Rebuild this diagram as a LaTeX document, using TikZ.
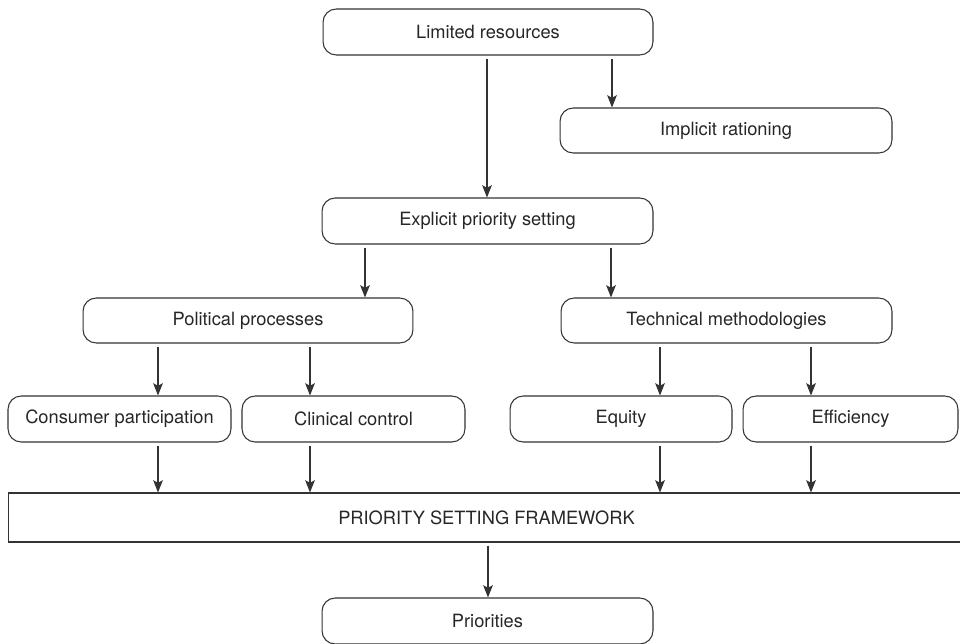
\documentclass[tikz,border=0pt]{standalone}
\usepackage{fontspec}
\setmainfont{TeX Gyre Heros}
\usetikzlibrary{arrows.meta}

\begin{document}
\begin{tikzpicture}[x=0.02cm, y=-0.02cm,
    box/.style={draw=black!80, line width=0.6pt, rounded corners=7.5pt,
        minimum height=0.92cm, inner sep=0pt, text=black!85,
        font=\fontsize{10.4}{12}\selectfont},
    frame/.style={box, rounded corners=0pt},
    arr/.style={-{Stealth[length=7pt, width=5.5pt, inset=1.5pt]},
        draw=black!80, fill=black!80, line width=0.6pt, shorten <=1.7pt}]

    \path[use as bounding box, clip] (0,0) rectangle (960,643);

    %% Rationing

    % Top level
    \node[box, minimum width=6.6cm] (lim) at (488,32) {Limited resources};
    \node[box, minimum width=6.64cm, minimum height=0.9cm] (imp) at (726,130.5) {Implicit rationing};
    \node[box, minimum width=6.62cm] (exp) at (487.5,221) {Explicit priority setting};

    % Processes
    \node[box, minimum width=6.6cm, minimum height=0.9cm] (pol) at (248,320.5) {Political processes};
    \node[box, minimum width=6.62cm, minimum height=0.9cm] (tech) at (726.5,320.5) {Technical methodologies};

    % Criteria
    \node[box, minimum width=4.46cm] (cons) at (119.5,419) {Consumer participation};
    \node[box, minimum width=4.46cm] (clin) at (353.5,419) {Clinical control};
    \node[box, minimum width=4.44cm] (equ) at (621,419) {Equity};
    \node[box, minimum width=4.3cm] (eff) at (850.5,419) {Efficiency};

    % Framework
    \node[frame, minimum width=19.14cm, minimum height=0.98cm] (psf) at (486.5,517.5) {PRIORITY SETTING FRAMEWORK};
    \node[box, minimum width=6.62cm] (prio) at (487.5,621) {Priorities};

    % Arrows
    \draw[arr] (lim.south -| 487,0) -- (exp.north -| 487,0);
    \draw[arr] (lim.south -| 612,0) -- (imp.north -| 612,0);
    \draw[arr] (exp.south -| 365,0) -- (pol.north -| 365,0);
    \draw[arr] (exp.south -| 611,0) -- (tech.north -| 611,0);
    \draw[arr] (pol.south -| 158,0) -- (cons.north -| 158,0);
    \draw[arr] (pol.south -| 310,0) -- (clin.north -| 310,0);
    \draw[arr] (tech.south -| 660,0) -- (equ.north -| 660,0);
    \draw[arr] (tech.south -| 811,0) -- (eff.north -| 811,0);
    \draw[arr] (cons.south -| 158,0) -- (psf.north -| 158,0);
    \draw[arr] (clin.south -| 310,0) -- (psf.north -| 310,0);
    \draw[arr] (equ.south -| 660,0) -- (psf.north -| 660,0);
    \draw[arr] (eff.south -| 811,0) -- (psf.north -| 811,0);
    \draw[arr] (psf.south -| 488,0) -- (prio.north -| 488,0);

\end{tikzpicture}
\end{document}
